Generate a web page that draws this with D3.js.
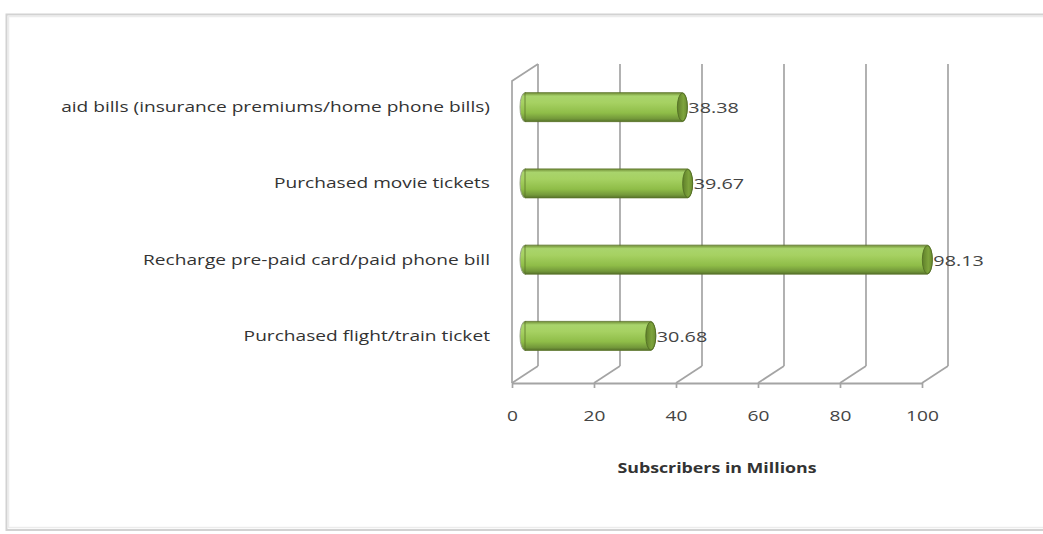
<!DOCTYPE html>
<html><head><meta charset="utf-8">
<script src="https://cdn.jsdelivr.net/npm/d3@7"></script>
<style>html,body{margin:0;padding:0;background:#fff;}svg{display:block;}</style>
</head><body>
<svg id="c" width="1043" height="534"></svg>
<script>
const categories = [
  "aid bills (insurance premiums/home phone bills)",
  "Purchased movie tickets",
  "Recharge pre-paid card/paid phone bill",
  "Purchased flight/train ticket"
];
const values = [38.38, 39.67, 98.13, 30.68];
const valueLabels = ["38.38", "39.67", "98.13", "30.68"];
const tickValues = [0, 20, 40, 60, 80, 100];
const axisTitle = "Subscribers in Millions";

const svg = d3.select("#c");
const font = "'Open Sans', 'Noto Sans', sans-serif";
const stretch = 1.32;

// frame
svg.append("rect").attr("x", 6.5).attr("y", 14.5).attr("width", 1060).attr("height", 515.5)
  .attr("fill", "#fff").attr("stroke", "#d2d2d2").attr("stroke-width", 2);
svg.append("rect").attr("x", 8.5).attr("y", 16.5).attr("width", 1060).attr("height", 511)
  .attr("fill", "none").attr("stroke", "#ececec").attr("stroke-width", 1.5);

const xFront = d3.scaleLinear().domain([0, 100]).range([512, 922]);
const xBar = d3.scaleLinear().domain([0, 100]).range([525, 935]);
const dx = 26, dy = -17;
const floorY = 383, wallTopFront = 81;
const y = d3.scalePoint().domain(categories).range([69, 374]).padding(0.5);
const barH = 29;
const gridColor = "#a4a4a4";

const g = svg.append("g");
tickValues.forEach(t => {
  g.append("line").attr("x1", xFront(t) + dx).attr("x2", xFront(t) + dx)
    .attr("y1", wallTopFront + dy).attr("y2", floorY + dy)
    .attr("stroke", gridColor).attr("stroke-width", 1.7);
  g.append("line").attr("x1", xFront(t)).attr("y1", floorY)
    .attr("x2", xFront(t) + dx).attr("y2", floorY + dy)
    .attr("stroke", gridColor).attr("stroke-width", 1.7);
});
g.append("path").attr("d", `M${xFront(0)},${floorY} L${xFront(0)},${wallTopFront} L${xFront(0) + dx},${wallTopFront + dy}`)
  .attr("fill", "none").attr("stroke", gridColor).attr("stroke-width", 1.7);

const axis = d3.axisBottom(xFront).tickValues(tickValues).tickSize(5).tickSizeOuter(0).tickPadding(23);
const ax = svg.append("g").attr("transform", `translate(0,${floorY})`).call(axis);
ax.select(".domain").attr("stroke", gridColor).attr("stroke-width", 1.9);
ax.selectAll(".tick line").attr("stroke", gridColor).attr("stroke-width", 1.7);
ax.selectAll(".tick text").attr("font-family", font).attr("font-size", 14.5).attr("fill", "#444")
  .attr("transform", `scale(${stretch},1)`);

const defs = svg.append("defs");
const grad = defs.append("linearGradient").attr("id", "cyl").attr("x1", 0).attr("y1", 0).attr("x2", 0).attr("y2", 1);
[[0, "#6f8c35"], [0.12, "#a9d46c"], [0.35, "#a6d162"], [0.7, "#8fbd48"], [0.9, "#73983a"], [1, "#56722a"]]
  .forEach(([o, c]) => grad.append("stop").attr("offset", o).attr("stop-color", c));
const capGrad = defs.append("linearGradient").attr("id", "cap").attr("x1", 0).attr("y1", 0).attr("x2", 1).attr("y2", 0);
[[0, "#5f7f2a"], [0.6, "#7ea43c"], [1, "#6a8c30"]]
  .forEach(([o, c]) => capGrad.append("stop").attr("offset", o).attr("stop-color", c));

const bars = svg.append("g");
categories.forEach((c, i) => {
  const cy = y(c), x0 = xBar(0), x1 = xBar(values[i]);
  const ry = barH / 2, rx = 5;
  bars.append("ellipse").attr("cx", x0).attr("cy", cy).attr("rx", rx).attr("ry", ry)
    .attr("fill", "url(#cyl)").attr("stroke", "#9aa58a").attr("stroke-width", 1);
  bars.append("path")
    .attr("d", `M${x0},${cy - ry} L${x1},${cy - ry} A${rx},${ry} 0 0 1 ${x1},${cy + ry} L${x0},${cy + ry} Z`)
    .attr("fill", "url(#cyl)").attr("stroke", "#5b7428").attr("stroke-width", 0.8);
  bars.append("ellipse").attr("cx", x1).attr("cy", cy).attr("rx", rx).attr("ry", ry - 0.5)
    .attr("fill", "url(#cap)").attr("stroke", "#4f6a22").attr("stroke-width", 0.8);
  svg.append("text").attr("transform", `translate(${x1 + rx + 1},${cy + 6}) scale(${stretch},1)`)
    .attr("font-family", font).attr("font-size", 15).attr("fill", "#444").text(valueLabels[i]);
  svg.append("text").attr("transform", `translate(490,${cy + 5}) scale(${stretch},1)`).attr("text-anchor", "end")
    .attr("font-family", font).attr("font-size", 14.5).attr("fill", "#333").text(c);
});

svg.append("text").attr("transform", `translate(717,473) scale(1.27,1)`).attr("text-anchor", "middle")
  .attr("font-family", font).attr("font-size", 14).attr("font-weight", "bold").attr("fill", "#333")
  .text(axisTitle);
</script>
</body></html>
